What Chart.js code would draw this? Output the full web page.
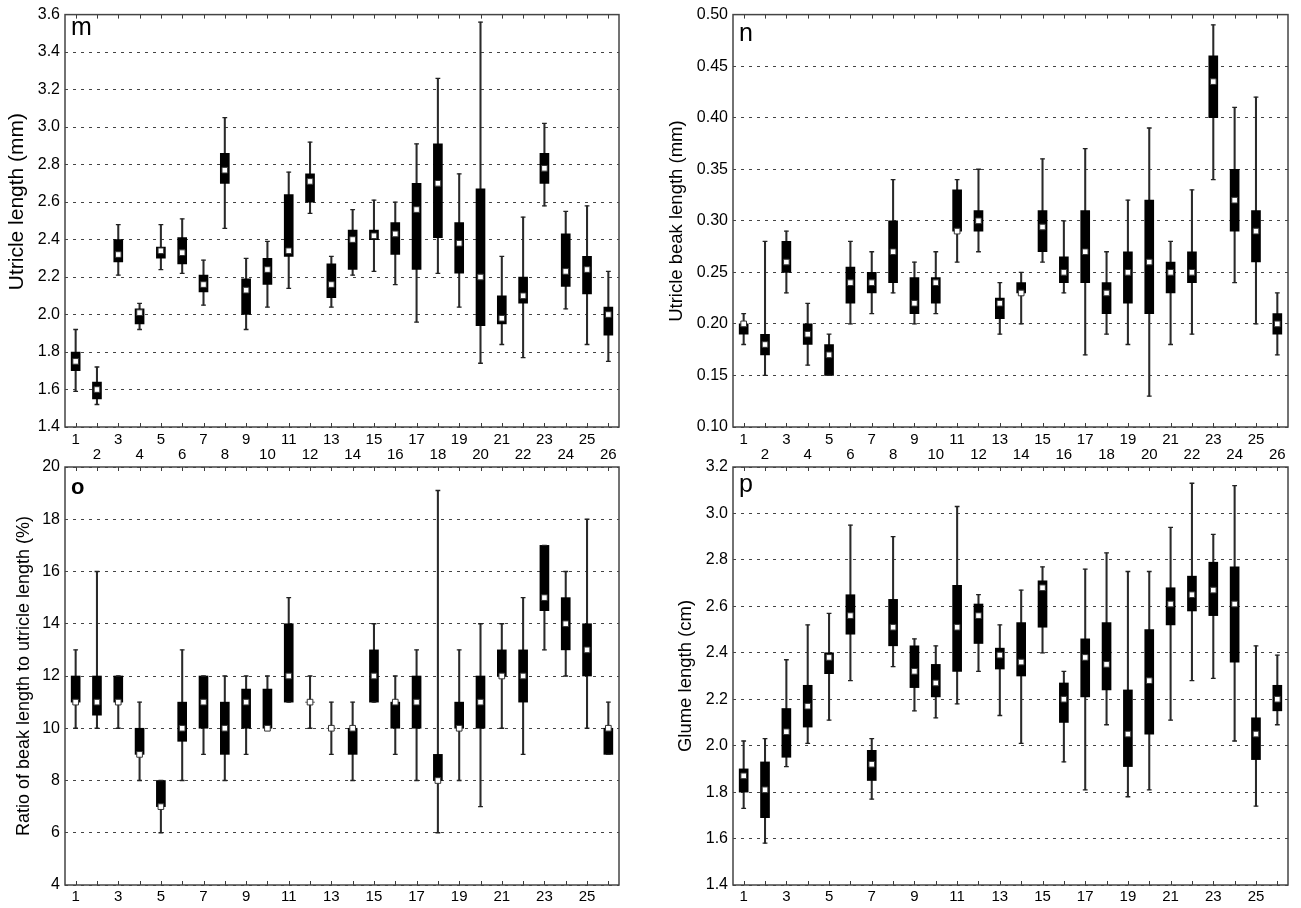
<!DOCTYPE html>
<html>
<head>
<meta charset="utf-8">
<title>Box plots m–p</title>
<script src="https://cdn.jsdelivr.net/npm/chart.js@4.4.0/dist/chart.umd.min.js"></script>
<style>
  html, body { margin: 0; padding: 0; background: #fff; }
  body { position: relative; width: 1301px; height: 908px; overflow: hidden; }
  canvas { position: absolute; }
</style>
</head>
<body>
<canvas id="chartM" width="650" height="466" style="left:0;top:0"></canvas>
<canvas id="chartN" width="651" height="466" style="left:650px;top:0"></canvas>
<canvas id="chartO" width="650" height="462" style="left:0;top:446px"></canvas>
<canvas id="chartP" width="651" height="462" style="left:650px;top:446px"></canvas>
<script>
// Populations 1–26
const categories = ['1','2','3','4','5','6','7','8','9','10','11','12','13','14','15','16','17','18','19','20','21','22','23','24','25','26'];

// m — Utricle length (mm)
const mMin = [1.59,1.52,2.21,1.92,2.24,2.22,2.05,2.46,1.92,2.04,2.14,2.54,2.04,2.21,2.23,2.16,1.96,2.22,2.04,1.74,1.84,1.77,2.58,2.03,1.84,1.75];
const mQ1  = [1.70,1.55,2.28,1.95,2.30,2.27,2.12,2.70,2.00,2.16,2.31,2.60,2.09,2.24,2.40,2.32,2.24,2.41,2.22,1.94,1.95,2.06,2.70,2.15,2.11,1.89];
const mMed = [1.75,1.60,2.32,2.01,2.34,2.33,2.16,2.77,2.13,2.24,2.34,2.71,2.16,2.40,2.42,2.43,2.56,2.70,2.38,2.20,1.98,2.10,2.78,2.23,2.24,2.00];
const mQ3  = [1.80,1.64,2.40,2.03,2.36,2.41,2.21,2.86,2.19,2.30,2.64,2.75,2.27,2.45,2.45,2.49,2.70,2.91,2.49,2.67,2.10,2.20,2.86,2.43,2.31,2.04];
const mMax = [1.92,1.72,2.48,2.06,2.48,2.51,2.29,3.05,2.30,2.39,2.76,2.92,2.31,2.56,2.61,2.60,2.91,3.26,2.75,3.56,2.31,2.52,3.02,2.55,2.58,2.23];

// n — Utricle beak length (mm)
const nMin = [0.18,0.15,0.23,0.16,0.15,0.20,0.21,0.23,0.20,0.21,0.26,0.27,0.19,0.20,0.26,0.23,0.17,0.19,0.18,0.13,0.18,0.19,0.34,0.24,0.20,0.17];
const nQ1  = [0.19,0.17,0.25,0.18,0.15,0.22,0.23,0.24,0.21,0.22,0.29,0.29,0.205,0.23,0.27,0.24,0.24,0.21,0.22,0.21,0.23,0.24,0.40,0.29,0.26,0.19];
const nMed = [0.20,0.18,0.26,0.19,0.17,0.24,0.24,0.27,0.22,0.24,0.29,0.30,0.22,0.23,0.294,0.25,0.27,0.23,0.25,0.26,0.25,0.25,0.435,0.32,0.29,0.20];
const nQ3  = [0.20,0.19,0.28,0.20,0.18,0.255,0.25,0.30,0.245,0.245,0.33,0.31,0.225,0.24,0.31,0.265,0.31,0.24,0.27,0.32,0.26,0.27,0.46,0.35,0.31,0.21];
const nMax = [0.21,0.28,0.29,0.22,0.19,0.28,0.27,0.34,0.26,0.27,0.34,0.35,0.24,0.25,0.36,0.30,0.37,0.27,0.32,0.39,0.28,0.33,0.49,0.41,0.42,0.23];

// o — Ratio of beak length to utricle length (%)
const oMin = [10,10,10,8,6,8,9,8,9,10,11,10,9,8,11,9,8,6,8,7,10,9,13,12,10,9];
const oQ1  = [11,10.5,11,9,7,9.5,10,9,10,10,11,11,10,9,11,10,10,8,10,10,12,11,14.5,13,12,9];
const oMed = [11,11,11,9,7,10,11,10,11,10,12,11,10,10,12,11,11,8,10,11,12,12,15,14,13,10];
const oQ3  = [12,12,12,10,8,11,12,11,11.5,11.5,14,11,10,10,13,11,12,9,11,12,13,13,17,15,14,10];
const oMax = [13,16,12,11,8,13,12,12,12,12,15,12,11,11,14,12,13,19.1,13,14,14,15,17,16,18,11];

// p — Glume length (cm)
const pMin = [1.73,1.58,1.91,2.01,2.11,2.28,1.77,2.34,2.15,2.12,2.18,2.32,2.13,2.01,2.40,1.93,1.81,2.09,1.78,1.81,2.11,2.28,2.29,2.02,1.74,2.09];
const pQ1  = [1.80,1.69,1.95,2.08,2.31,2.48,1.85,2.43,2.25,2.21,2.32,2.44,2.33,2.30,2.51,2.10,2.21,2.24,1.91,2.05,2.52,2.58,2.56,2.36,1.94,2.15];
const pMed = [1.87,1.81,2.06,2.17,2.38,2.56,1.92,2.51,2.32,2.27,2.51,2.56,2.39,2.36,2.68,2.20,2.38,2.35,2.05,2.28,2.61,2.65,2.67,2.61,2.05,2.20];
const pQ3  = [1.90,1.93,2.16,2.26,2.40,2.65,1.98,2.63,2.43,2.35,2.69,2.61,2.42,2.53,2.71,2.27,2.46,2.53,2.24,2.50,2.68,2.73,2.79,2.77,2.12,2.26];
const pMax = [2.02,2.03,2.37,2.52,2.57,2.95,2.03,2.90,2.46,2.43,3.03,2.65,2.52,2.67,2.77,2.32,2.76,2.83,2.75,2.75,2.94,3.13,2.91,3.12,2.43,2.39];

const FONT = "'Liberation Sans', Arial, Helvetica, sans-serif";

// Frame, inner category ticks, panel letter and rotated axis title
const panelDecor = {
  id: 'panelDecor',
  beforeDatasetsDraw(chart, args, o) {
    const { ctx, chartArea: a, scales: { x } } = chart;
    ctx.save();
    ctx.strokeStyle = '#3a3a3a';
    ctx.lineWidth = 1;
    x.ticks.forEach((t, i) => {
      const px = Math.round(x.getPixelForTick(i)) + 0.5;
      ctx.beginPath();
      ctx.moveTo(px, a.top); ctx.lineTo(px, a.top + 4);
      ctx.moveTo(px, a.bottom); ctx.lineTo(px, a.bottom - 4);
      ctx.stroke();
    });
    ctx.lineWidth = 1.5;
    ctx.strokeStyle = '#444';
    ctx.strokeRect(a.left, a.top, a.right - a.left, a.bottom - a.top);
    ctx.restore();
  },
  afterDraw(chart, args, o) {
    const { ctx, chartArea: a } = chart;
    ctx.save();
    ctx.fillStyle = '#000';
    ctx.font = o.letterFont;
    ctx.textBaseline = 'alphabetic';
    ctx.textAlign = 'left';
    ctx.fillText(o.letter, a.left + 6, a.top + o.letterDy);
    ctx.translate(o.titleX, a.top + o.titleDy);
    ctx.rotate(-Math.PI / 2);
    ctx.font = o.titleFont;
    ctx.textAlign = 'center';
    ctx.textBaseline = 'middle';
    ctx.fillText(o.title, 0, 0);
    ctx.restore();
  }
};

function boxChart(id, s) {
  const boxes = s.q1.map((v, i) => [v, s.q3[i]]);
  const whiskers = s.min.map((v, i) => [v, s.max[i]]);
  return new Chart(document.getElementById(id), {
    type: 'bar',
    data: {
      labels: categories,
      datasets: [
        { type: 'line', label: 'median', data: s.med, showLine: false, order: 0,
          pointStyle: 'rect', pointRadius: 4, pointBackgroundColor: '#fff',
          pointBorderColor: '#333', pointBorderWidth: 1 },
        { type: 'line', label: 'max', data: s.max, showLine: false, order: 1,
          pointStyle: 'line', pointRadius: 2.4, pointBorderColor: '#222', pointBorderWidth: 1.3 },
        { type: 'line', label: 'min', data: s.min, showLine: false, order: 1,
          pointStyle: 'line', pointRadius: 2.4, pointBorderColor: '#222', pointBorderWidth: 1.3 },
        { label: 'box', data: boxes, backgroundColor: '#000', barThickness: 9,
          grouped: false, borderSkipped: false, order: 2 },
        { label: 'whisker', data: whiskers, backgroundColor: '#2a2a2a', barThickness: 1.4,
          grouped: false, borderSkipped: false, order: 3 }
      ]
    },
    options: {
      responsive: false,
      animation: false,
      events: [],
      layout: { padding: { left: 0, right: s.padRight, top: s.padTop, bottom: 0 } },
      plugins: {
        legend: { display: false },
        tooltip: { enabled: false },
        panelDecor: {
          letter: s.letter, letterFont: s.letterFont, letterDy: s.letterDy,
          title: s.title, titleFont: s.titleFont, titleX: s.titleX, titleDy: s.titleDy
        }
      },
      scales: {
        x: {
          type: 'category',
          offset: true,
          grid: { display: false, drawTicks: false },
          border: { display: false },
          ticks: {
            autoSkip: false, maxRotation: 0, minRotation: 0,
            padding: s.xPad, color: '#000',
            font: { family: FONT, size: 15, lineHeight: '15px' },
            callback: s.xLabel
          },
          afterFit: sc => { sc.height = s.xAxisH; }
        },
        y: {
          min: s.yMin, max: s.yMax,
          grid: { color: '#444', lineWidth: 1, drawTicks: false },
          border: { display: false, dash: [3, 5] },
          ticks: {
            stepSize: s.yStep, autoSkip: false, padding: 5, color: '#000',
            font: { family: FONT, size: 16 },
            callback: v => v.toFixed(s.yDec)
          },
          afterFit: sc => { sc.width = s.yAxisW; }
        }
      }
    },
    plugins: [panelDecor]
  });
}

const twoRows = (v, i) => (i % 2 === 0 ? [categories[i], ''] : ['', categories[i]]);
const oddOnly = (v, i) => (i % 2 === 0 ? categories[i] : '');

boxChart('chartM', {
  min: mMin, q1: mQ1, med: mMed, q3: mQ3, max: mMax,
  yMin: 1.4, yMax: 3.6, yStep: 0.2, yDec: 1,
  yAxisW: 65, padRight: 31, padTop: 10, xAxisH: 39, xPad: 5, xLabel: twoRows,
  letter: 'm', letterFont: `25px ${FONT}`, letterDy: 20,
  title: 'Utricle length (mm)', titleFont: `21px ${FONT}`, titleX: 17.5, titleDy: 187
});

boxChart('chartN', {
  min: nMin, q1: nQ1, med: nMed, q3: nQ3, max: nMax,
  yMin: 0.10, yMax: 0.50, yStep: 0.05, yDec: 2,
  yAxisW: 83, padRight: 13, padTop: 10, xAxisH: 39, xPad: 5, xLabel: twoRows,
  letter: 'n', letterFont: `25px ${FONT}`, letterDy: 26,
  title: 'Utricle beak length (mm)', titleFont: `18.5px ${FONT}`, titleX: 27, titleDy: 206.5
});

boxChart('chartO', {
  min: oMin, q1: oQ1, med: oMed, q3: oQ3, max: oMax,
  yMin: 4, yMax: 20, yStep: 2, yDec: 0,
  yAxisW: 65, padRight: 31, padTop: 21, xAxisH: 23, xPad: 4, xLabel: oddOnly,
  letter: 'o', letterFont: `bold 22px ${FONT}`, letterDy: 27,
  title: 'Ratio of beak length to utricle length (%)', titleFont: `18px ${FONT}`, titleX: 24.5, titleDy: 209
});

boxChart('chartP', {
  min: pMin, q1: pQ1, med: pMed, q3: pQ3, max: pMax,
  yMin: 1.4, yMax: 3.2, yStep: 0.2, yDec: 1,
  yAxisW: 83, padRight: 13, padTop: 21, xAxisH: 23, xPad: 4, xLabel: oddOnly,
  letter: 'p', letterFont: `25px ${FONT}`, letterDy: 25,
  title: 'Glume length (cm)', titleFont: `18.5px ${FONT}`, titleX: 36, titleDy: 209
});
</script>
</body>
</html>
